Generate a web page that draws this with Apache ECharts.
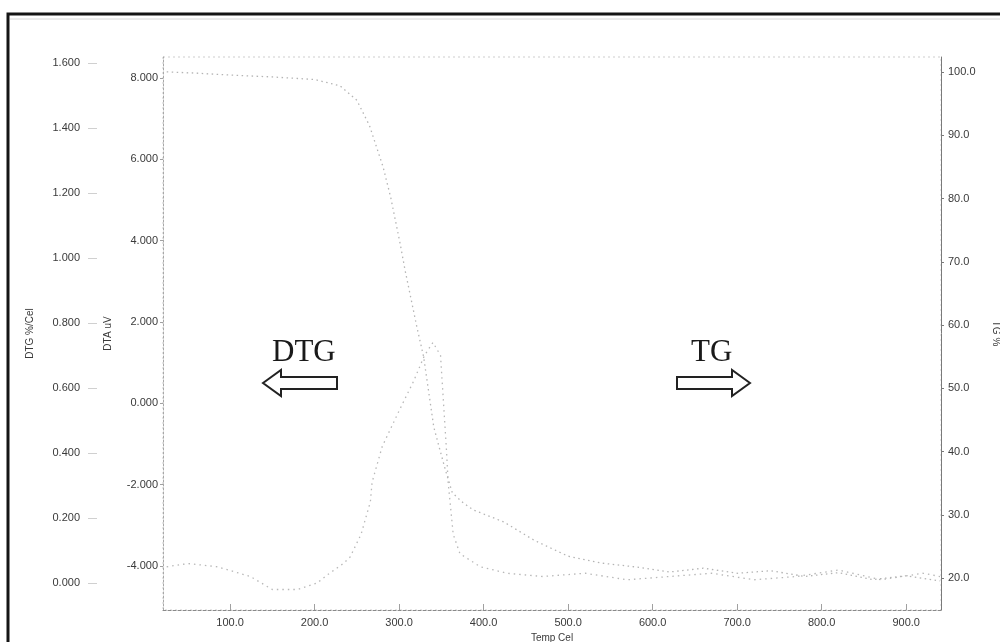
<!DOCTYPE html>
<html>
<head>
<meta charset="utf-8">
<title>TG / DTG</title>
<script src="https://cdn.jsdelivr.net/npm/echarts@6/dist/echarts.min.js"></script>
<style>
  html, body { margin: 0; padding: 0; background: #ffffff; }
  #chart { width: 1000px; height: 642px; }
</style>
</head>
<body>
<div id="chart"></div>
<script>
// Temperature axis ticks (°C)
const tempTicks = [100, 200, 300, 400, 500, 600, 700, 800, 900];
// Left axes ticks
const dtgTicks = [0, 0.2, 0.4, 0.6, 0.8, 1.0, 1.2, 1.4, 1.6];
const dtaTicks = [-4, -2, 0, 2, 4, 6, 8];
// Right axis ticks
const tgTicks = [20, 30, 40, 50, 60, 70, 80, 90, 100];

// TG curve: temperature (°C) and remaining mass (%)
const tgTemp = [25, 60, 100, 150, 200, 230, 250, 265, 281, 290, 301, 307, 321, 329, 341, 345, 355, 363, 376, 388, 424, 460, 500, 540, 580, 620, 660, 700, 740, 780, 820, 860, 900, 940];
const tgMass = [100.0, 99.8, 99.5, 99.2, 98.8, 97.8, 95.5, 91.5, 85.0, 80.2, 73.0, 68.7, 59.7, 55.0, 43.9, 41.9, 37.0, 33.5, 31.9, 30.8, 28.9, 26.0, 23.5, 22.4, 21.8, 21.0, 21.6, 20.8, 21.2, 20.3, 20.9, 19.8, 20.4, 19.6];

// DTG curve: temperature (°C) and mass-loss rate (%/°C)
const dtgTemp = [25, 50, 85, 124, 150, 180, 203, 215, 234, 242, 255, 266, 268, 280, 300, 317, 330, 340, 349, 356, 358, 364, 372, 396, 428, 470, 520, 570, 620, 670, 720, 770, 820, 870, 920, 940];
const dtgRate = [0.05, 0.06, 0.05, 0.02, -0.02, -0.02, 0.0, 0.025, 0.06, 0.08, 0.15, 0.25, 0.31, 0.42, 0.53, 0.62, 0.70, 0.74, 0.70, 0.41, 0.31, 0.15, 0.09, 0.05, 0.03, 0.02, 0.03, 0.01, 0.02, 0.03, 0.01, 0.02, 0.04, 0.01, 0.03, 0.02];

const pair = (xs, ys) => xs.map((x, i) => [x, ys[i]]);

const labelFont = { fontFamily: 'Liberation Sans, Arial, sans-serif', fontSize: 11, color: '#3a3a3a' };
const nameFont = { fontFamily: 'Liberation Sans, Arial, sans-serif', fontSize: 10, color: '#3a3a3a' };

const chart = echarts.init(document.getElementById('chart'), null, { renderer: 'canvas' });

// Outline arrow helpers
function leftArrow(tipX, cy, bodyEnd) {
  const hx = tipX + 18;
  return [[tipX, cy], [hx, cy - 13], [hx, cy - 6], [bodyEnd, cy - 6], [bodyEnd, cy + 6], [hx, cy + 6], [hx, cy + 13]];
}
function rightArrow(tipX, cy, bodyStart) {
  const hx = tipX - 18;
  return [[tipX, cy], [hx, cy - 13], [hx, cy - 6], [bodyStart, cy - 6], [bodyStart, cy + 6], [hx, cy + 6], [hx, cy + 13]];
}

chart.setOption({
  animation: false,
  backgroundColor: '#ffffff',
  grid: {
    left: 163, top: 57, right: 59, bottom: 32,
    outerBoundsMode: 'none',
    containLabel: false,
    show: true, borderColor: '#cdcdcd', borderWidth: 1, borderType: [2, 3]
  },
  xAxis: {
    type: 'value',
    min: 20.6, max: 941.2,
    name: 'Temp Cel',
    nameLocation: 'middle',
    nameGap: 19,
    nameTextStyle: nameFont,
    axisLine: { onZero: false, lineStyle: { color: '#8a8a8a', type: [3, 2] } },
    axisTick: { show: true, inside: true, length: 6, customValues: tempTicks, lineStyle: { color: '#a0a0a0' } },
    axisLabel: { customValues: tempTicks, margin: 7, formatter: v => v.toFixed(1), ...labelFont },
    splitLine: { show: false }
  },
  yAxis: [
    {
      // DTA
      type: 'value',
      position: 'left',
      min: -5.08, max: 8.51,
      name: 'DTA uV',
      nameLocation: 'middle',
      nameRotate: 90,
      nameGap: 50,
      nameTextStyle: nameFont,
      axisLine: { show: true, onZero: false, lineStyle: { color: '#a8a8a8', type: [2, 2] } },
      axisTick: { show: true, length: 3, customValues: dtaTicks, lineStyle: { color: '#a0a0a0' } },
      axisLabel: { customValues: dtaTicks, margin: 5, formatter: v => v.toFixed(3), ...labelFont },
      splitLine: { show: false }
    },
    {
      // DTG
      type: 'value',
      position: 'left',
      offset: 66,
      min: -0.083, max: 1.618,
      name: 'DTG %/Cel',
      nameLocation: 'middle',
      nameRotate: 90,
      nameGap: 62,
      nameTextStyle: nameFont,
      axisLine: { show: false, onZero: false },
      axisTick: { show: true, length: 9, customValues: dtgTicks, lineStyle: { color: '#d0d0d0' } },
      axisLabel: { customValues: dtgTicks, margin: 17, formatter: v => v.toFixed(3), ...labelFont },
      splitLine: { show: false }
    },
    {
      // TG
      type: 'value',
      position: 'right',
      min: 15, max: 102.35,
      name: 'TG %',
      nameLocation: 'middle',
      nameRotate: -90,
      nameGap: 50,
      nameTextStyle: nameFont,
      axisLine: { show: true, onZero: false, lineStyle: { color: '#7a7a7a', width: 1 } },
      axisTick: { show: true, length: 3, customValues: tgTicks, lineStyle: { color: '#7a7a7a' } },
      axisLabel: { customValues: tgTicks, margin: 7, formatter: v => v.toFixed(1), ...labelFont },
      splitLine: { show: false }
    }
  ],
  series: [
    {
      name: 'TG',
      type: 'line',
      yAxisIndex: 2,
      data: pair(tgTemp, tgMass),
      showSymbol: false,
      lineStyle: { color: '#b4b4b4', width: 1.3, type: [1.5, 3.5] }
    },
    {
      name: 'DTG',
      type: 'line',
      yAxisIndex: 1,
      data: pair(dtgTemp, dtgRate),
      showSymbol: false,
      lineStyle: { color: '#b8b8b8', width: 1.3, type: [1.5, 4] }
    }
  ],
  graphic: [
    // page frame
    { type: 'rect', shape: { x: 8, y: 14, width: 1010, height: 650 }, style: { fill: 'none', stroke: '#151515', lineWidth: 3 } },
    { type: 'line', shape: { x1: 10, y1: 19, x2: 1000, y2: 19 }, style: { stroke: '#d8d8d8', lineWidth: 1 } },
    // DTG label and arrow
    { type: 'text', x: 272, y: 337, style: { text: 'DTG', font: '31px "Liberation Serif", "Times New Roman", serif', fill: '#1a1a1a' } },
    { type: 'polygon', shape: { points: leftArrow(263, 383, 337) }, style: { fill: '#ffffff', stroke: '#222222', lineWidth: 2 } },
    // TG label and arrow
    { type: 'text', x: 691, y: 337, style: { text: 'TG', font: '31px "Liberation Serif", "Times New Roman", serif', fill: '#1a1a1a' } },
    { type: 'polygon', shape: { points: rightArrow(750, 383, 677) }, style: { fill: '#ffffff', stroke: '#222222', lineWidth: 2 } }
  ]
});
</script>
</body>
</html>
